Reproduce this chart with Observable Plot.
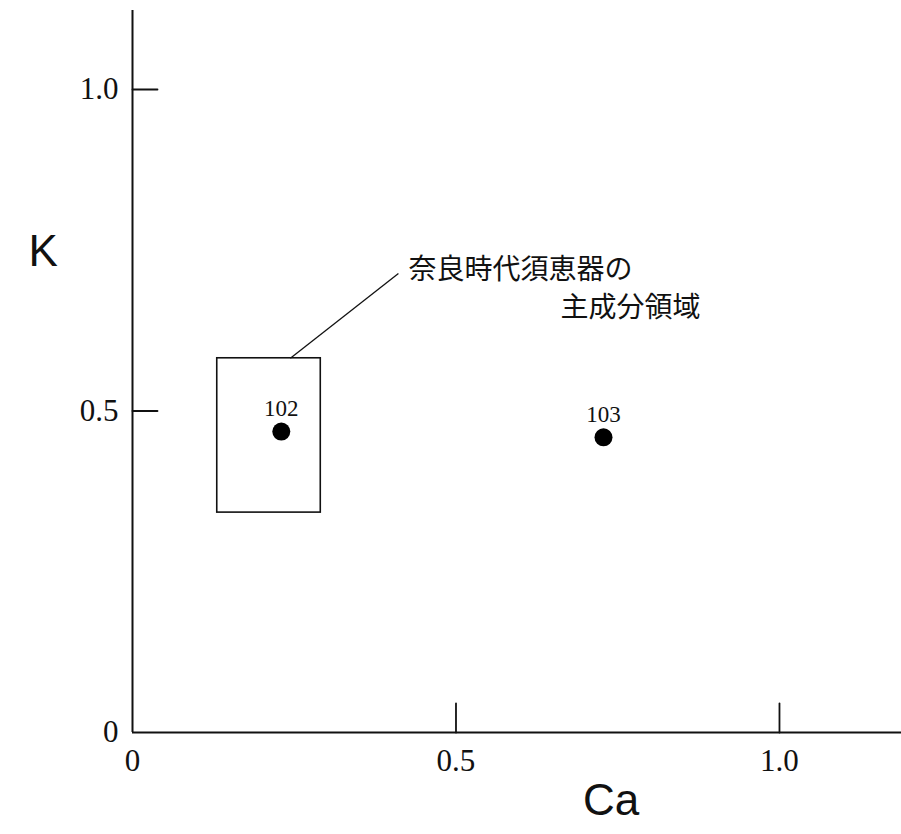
<!DOCTYPE html>
<html>
<head>
<meta charset="utf-8">
<script src="https://cdn.jsdelivr.net/npm/d3@7"></script>
<script src="https://cdn.jsdelivr.net/npm/@observablehq/plot@0.6"></script>
<style>
  html, body { margin: 0; padding: 0; background: #fff; }
  #chart svg { display: block; }
</style>
</head>
<body>
<div id="chart"></div>
<script>
// ---- data ----
const sampleIds = ["102", "103"];
const caValues = [0.230, 0.728];
const kValues = [0.468, 0.459];

const regionCa = [0.131, 0.291];   // Nara-period Sue ware main-component region (Ca range)
const regionK = [0.342, 0.582];    // (K range)

const leaderFrom = [0.244, 0.582];
const leaderTo = [0.411, 0.714];
const regionLabelLines = ["奈良時代須恵器の", "主成分領域"];

const xTicks = [0, 0.5, 1.0];
const xTickLabels = ["0", "0.5", "1.0"];
const yTicks = [0, 0.5, 1.0];
const yTickLabels = ["0", "0.5", "1.0"];
const xLabel = "Ca";
const yLabel = "K";

// ---- build ----
const points = sampleIds.map((id, i) => ({id, ca: caValues[i], k: kValues[i]}));
const region = [{x1: regionCa[0], x2: regionCa[1], y1: regionK[0], y2: regionK[1]}];
const leader = [{x1: leaderFrom[0], y1: leaderFrom[1], x2: leaderTo[0], y2: leaderTo[1]}];

const tickShape = { draw(context, l) { context.moveTo(0, 0); context.lineTo(0, -l); } };
const serif = "'Liberation Serif', 'DejaVu Serif', serif";
const sans = "'Liberation Sans', Arial, sans-serif";
const cjk = "'Noto Sans CJK JP', 'Noto Sans CJK SC', sans-serif";

const chart = Plot.plot({
  width: 901,
  height: 834,
  marginLeft: 132,
  marginRight: 0,
  marginTop: 10,
  marginBottom: 102,
  x: {domain: [0, 1.1886]},
  y: {domain: [0, 1.1229]},
  style: {background: "#fff", color: "#111"},
  marks: [
    // axis lines
    Plot.ruleX([0], {stroke: "#111", strokeWidth: 2}),
    Plot.ruleY([0], {stroke: "#111", strokeWidth: 2}),
    // inward ticks
    Plot.vector(yTicks.filter(d => d > 0), {x: 0, y: d => d, length: 25, rotate: 90, anchor: "start", shape: tickShape, stroke: "#111", strokeWidth: 1.8}),
    Plot.vector(xTicks.filter(d => d > 0), {x: d => d, y: 0, length: 29, rotate: 0, anchor: "start", shape: tickShape, stroke: "#111", strokeWidth: 1.8}),
    // tick labels
    Plot.axisY({ticks: yTicks, tickFormat: (d, i) => yTickLabels[i], tickSize: 0, tickPadding: 14, label: null,
      fontSize: 31, fontFamily: serif, letterSpacing: 1.5, fill: "#111"}),
    Plot.axisX({ticks: xTicks, tickFormat: (d, i) => xTickLabels[i], tickSize: 0, tickPadding: 16, label: null,
      fontSize: 31, fontFamily: serif, letterSpacing: 1.5, fill: "#111"}),
    // axis titles
    Plot.text([yLabel], {frameAnchor: "top-left", dx: -104, dy: 224, fontSize: 44, fontFamily: sans, fill: "#111"}),
    Plot.text([xLabel], {frameAnchor: "bottom", dx: 94, dy: 82, fontSize: 44, fontFamily: sans, fill: "#111"}),
    // region box
    Plot.rect(region, {x1: "x1", x2: "x2", y1: "y1", y2: "y2", fill: "none", stroke: "#111", strokeWidth: 1.6}),
    // leader line
    Plot.link(leader, {x1: "x1", y1: "y1", x2: "x2", y2: "y2", stroke: "#111", strokeWidth: 1.3}),
    // region label
    Plot.text([regionLabelLines[0]], {x: leaderTo[0], y: leaderTo[1], textAnchor: "start", dx: 10, dy: -3,
      fontSize: 28, letterSpacing: 1.6, fontFamily: cjk, fill: "#111"}),
    Plot.text([regionLabelLines[1]], {x: leaderTo[0], y: leaderTo[1], textAnchor: "start", dx: 162, dy: 35,
      fontSize: 28, letterSpacing: 1.6, fontFamily: cjk, fill: "#111"}),
    // sample points
    Plot.dot(points, {x: "ca", y: "k", r: 9, fill: "#000", stroke: "none"}),
    Plot.text(points, {x: "ca", y: "k", text: "id", dy: -23, fontSize: 23, fontFamily: serif, fill: "#111"})
  ]
});

document.getElementById("chart").appendChild(chart);
</script>
</body>
</html>
